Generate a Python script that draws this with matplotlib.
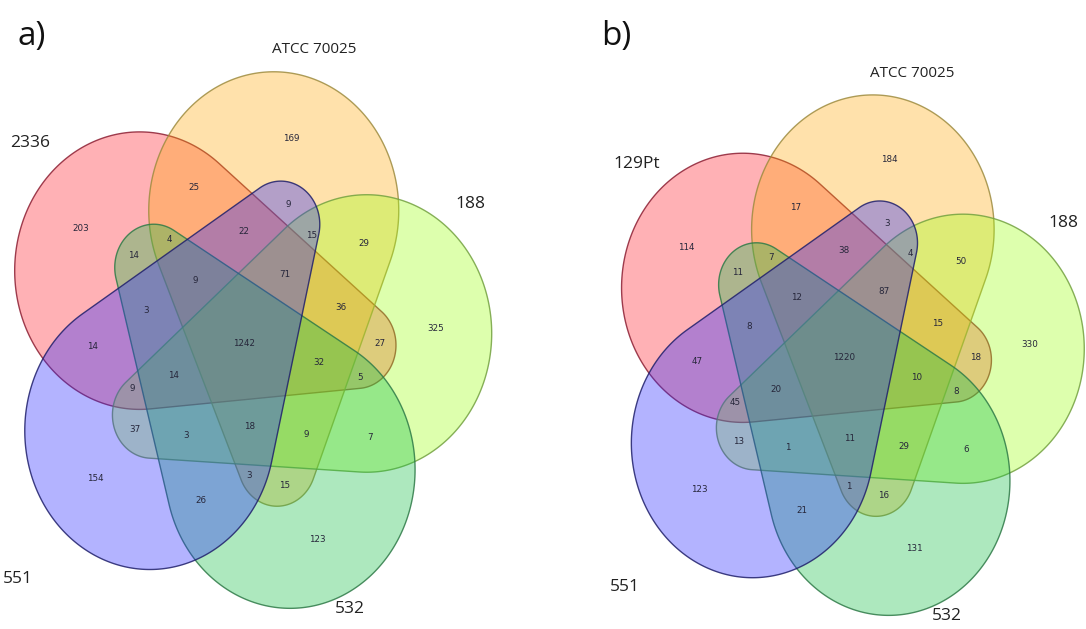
import numpy as np
import matplotlib.pyplot as plt
from matplotlib.patches import Polygon

# strains in each five-way comparison (order: R, Y, G, E, B)
names_a = ["2336", "ATCC 70025", "188", "532", "551"]
names_b = ["129Pt", "ATCC 70025", "188", "532", "551"]

# intersections, letters = member sets (R first strain, Y ATCC 70025, G 188, E 532, B 551)
regions = ["R", "Y", "G", "E", "B",
           "RY", "RE", "YB", "YG", "RG", "RB", "BG", "GE", "YE", "BE",
           "RYB", "YBG", "RYE", "RYG", "RBE", "RGE", "RBG", "YGE", "YBE", "BGE",
           "RYBG", "RYBE", "RYGE", "RBGE", "YBGE", "RYGEB"]
counts_a = [203, 169, 325, 123, 154,
            25, 14, 9, 29, 27, 14, 37, 7, 15, 26,
            22, 15, 4, 36, 3, 5, 9, 9, 3, 3,
            71, 9, 32, 14, 18, 1242]
counts_b = [114, 184, 330, 131, 123,
            17, 11, 3, 50, 18, 47, 13, 6, 16, 21,
            38, 4, 7, 15, 8, 8, 45, 29, 1, 1,
            87, 12, 10, 20, 11, 1220]

# template geometry: each set = hull of a big disc and a small "finger" disc
angles = [148, 76, 4, 292, 220]
face = [(1.0, 0.16, 0.2, 0.36), (1.0, 0.65, 0.0, 0.33), (0.62, 1.0, 0.08, 0.35),
        (0.08, 0.75, 0.28, 0.35), (0.15, 0.15, 1.0, 0.35)]
edge = [(0.55, 0.12, 0.2), (0.62, 0.55, 0.25), (0.45, 0.63, 0.25),
        (0.18, 0.48, 0.28), (0.12, 0.12, 0.42)]

# label anchor points in template units (origin = diagram centre, y up)
spots = {
    "R": (-163, 103), "Y": (47, 184), "G": (192, 13), "E": (73, -177), "B": (-149, -122),
    "RY": (-50, 140), "RE": (-110, 79), "YB": (44, 125), "YG": (120, 90), "RG": (136, 0),
    "RB": (-151, -3), "BG": (-109, -78), "GE": (126, -85), "YE": (41, -128), "BE": (-43, -142),
    "RYB": (0, 100), "YBG": (68, 97), "RYE": (-75, 93), "RYG": (97, 32), "RBE": (-98, 29),
    "RGE": (116, -31), "RBG": (-112, -41), "YGE": (62, -82), "YBE": (5, -119), "BGE": (-58, -83),
    "RYBG": (41, 62), "RYBE": (-49, 56), "RYGE": (75, -18), "RBGE": (-70, -29),
    "YBGE": (6, -75), "RYGEB": (0, 0),
}
name_spots = [(-214, 180), (70, 264), (226, 125), (106, -240), (-226, -213)]


def outline(deg):
    th = np.radians(deg)
    tt = np.radians(deg - 149)
    c1, R = 123 * np.array([np.cos(th), np.sin(th)]), 125.0
    c2, r = 113 * np.array([np.cos(tt), np.sin(tt)]), 39.0
    d = c2 - c1
    phi = np.arctan2(d[1], d[0])
    a = np.arccos((R - r) / np.hypot(*d))
    back = np.linspace(phi + a, phi + 2 * np.pi - a, 240)
    front = np.linspace(phi - a, phi + a, 80)
    return np.vstack([c1 + R * np.c_[np.cos(back), np.sin(back)],
                      c2 + r * np.c_[np.cos(front), np.sin(front)]])


def venn(ax, cx, cy, s, sy, names, counts):
    def to_px(pts):
        pts = np.atleast_2d(pts)
        return np.c_[cx + s * pts[:, 0], cy - s * sy * pts[:, 1]]

    for k in range(5):
        ax.add_patch(Polygon(to_px(outline(angles[k])), closed=True,
                             facecolor=face[k], edgecolor=edge[k] + (0.85,), lw=1.0))
    for key, n in zip(regions, counts):
        x, y = to_px(spots[key])[0]
        ax.text(x, y, str(n), ha="center", va="center", fontsize=6.3,
                color="#26263a", family="DejaVu Sans")
    for k, name in enumerate(names):
        x, y = to_px(name_spots[k])[0]
        fs = 11 if k == 1 else 12.5
        ax.text(x, y, name, ha="center", va="center", fontsize=fs,
                color="#222222", family="Open Sans")


fig = plt.figure(figsize=(10.86, 6.29), dpi=100)
ax = fig.add_axes([0, 0, 1, 1])
ax.set_xlim(0, 1086)
ax.set_ylim(629, 0)
ax.axis("off")

venn(ax, 244, 343, 1.0, 1.11, names_a, counts_a)
venn(ax, 844, 358, 0.97, 1.11, names_b, counts_b)

ax.text(32, 36, "a)", ha="center", va="center", fontsize=24, family="Open Sans", color="#111111")
ax.text(616, 36, "b)", ha="center", va="center", fontsize=24, family="Open Sans", color="#111111")

fig.savefig("out.png", dpi=100)
